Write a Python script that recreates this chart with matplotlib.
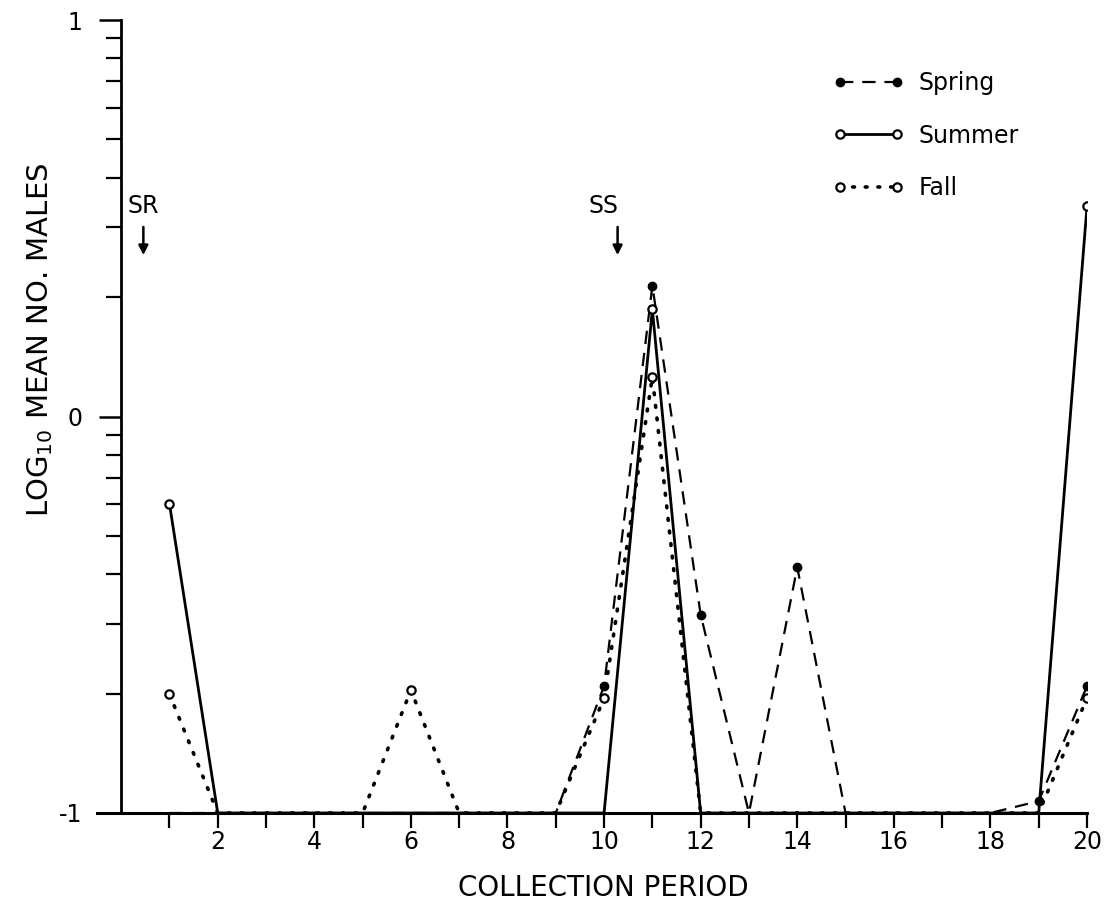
import matplotlib
matplotlib.use('Agg')
import matplotlib.pyplot as plt
import numpy as np

# collection periods 1..20, log10 mean number of males
period = np.arange(1, 21)
spring = [-1, -1, -1, -1, -1, -1, -1, -1, -1, -0.68, 0.33, -0.50, -1, -0.38, -1, -1, -1, -1, -0.97, -0.68]
summer = [-0.22, -1, -1, -1, -1, -1, -1, -1, -1, -1, 0.27, -1, -1, -1, -1, -1, -1, -1, -1, 0.53]
fall = [-0.70, -1, -1, -1, -1, -0.69, -1, -1, -1, -0.71, 0.10, -1, -1, -1, -1, -1, -1, -1, -1, -0.71]

xtick_labels = [str(p) if p % 2 == 0 else '' for p in period]
ytick_vals = [-1, 0, 1]
ytick_labels = ['-1', '0', '1']

plt.rcParams['font.family'] = ['DejaVu Sans']

fig = plt.figure(figsize=(11.08, 9.17), dpi=100)
ax = fig.add_axes([97/1108, 104/917, 990/1108, 793/917])

def mask(vals):
    return [v > -1 for v in vals]

ax.plot(period, spring, color='black', lw=1.6, linestyle=(0, (6, 4)),
        marker='o', markersize=6, markerfacecolor='black', markeredgecolor='black',
        markevery=mask(spring), label='Spring')
ax.plot(period, summer, color='black', lw=2.0, linestyle='-',
        marker='o', markersize=6, markerfacecolor='white', markeredgecolor='black',
        markeredgewidth=1.6, markevery=mask(summer), label='Summer')
ax.plot(period, fall, color='black', lw=2.6, linestyle=(0, (0.5, 3.0)),
        dash_capstyle='round', marker='o', markersize=6, markerfacecolor='white',
        markeredgecolor='black', markeredgewidth=1.6, markevery=mask(fall), label='Fall')

ax.set_xlim(-0.5, 20)
ax.set_ylim(-1, 1)

for s in ['top', 'right']:
    ax.spines[s].set_visible(False)
ax.spines['left'].set_position(('data', 0))
ax.spines['left'].set_bounds(-1, 1)
ax.spines['left'].set_linewidth(2.0)
ax.spines['bottom'].set_linewidth(2.2)

ax.set_xticks(period)
ax.set_xticklabels(xtick_labels, fontsize=17)
ax.tick_params(axis='x', direction='out', length=11, width=1.6, pad=1)

ax.set_yticks(ytick_vals)
ax.set_yticklabels(ytick_labels, fontsize=17)
minor = np.concatenate([np.log10(np.arange(2, 10)) - 1, np.log10(np.arange(2, 10))])
ax.set_yticks(minor, minor=True)
ax.tick_params(axis='y', which='major', direction='out', length=16, width=1.8, pad=12)
ax.tick_params(axis='y', which='minor', direction='out', length=11, width=1.6)

ax.text(0.46, 0.50, 'SR', ha='center', va='bottom', fontsize=17)
ax.annotate('', xy=(0.46, 0.40), xytext=(0.46, 0.485),
            arrowprops=dict(arrowstyle='-|>', color='black', lw=1.8, mutation_scale=14))
ax.text(9.99, 0.50, 'SS', ha='center', va='bottom', fontsize=17)
ax.annotate('', xy=(10.28, 0.40), xytext=(10.28, 0.485),
            arrowprops=dict(arrowstyle='-|>', color='black', lw=1.8, mutation_scale=14))

leg = ax.legend(loc='upper left', bbox_to_anchor=(812/1108, 1 - 50/917),
                bbox_transform=fig.transFigure, frameon=False, numpoints=2,
                fontsize=17, handlelength=3.0, handletextpad=0.6, labelspacing=1.2)

fig.text(603/1108, 1 - 888/917, 'COLLECTION PERIOD', ha='center', va='center', fontsize=20)
fig.text(40/1108, 1 - 340/917, 'LOG$_{10}$ MEAN NO. MALES', ha='center', va='center',
         rotation=90, fontsize=21)

fig.savefig('out.png', dpi=100)
